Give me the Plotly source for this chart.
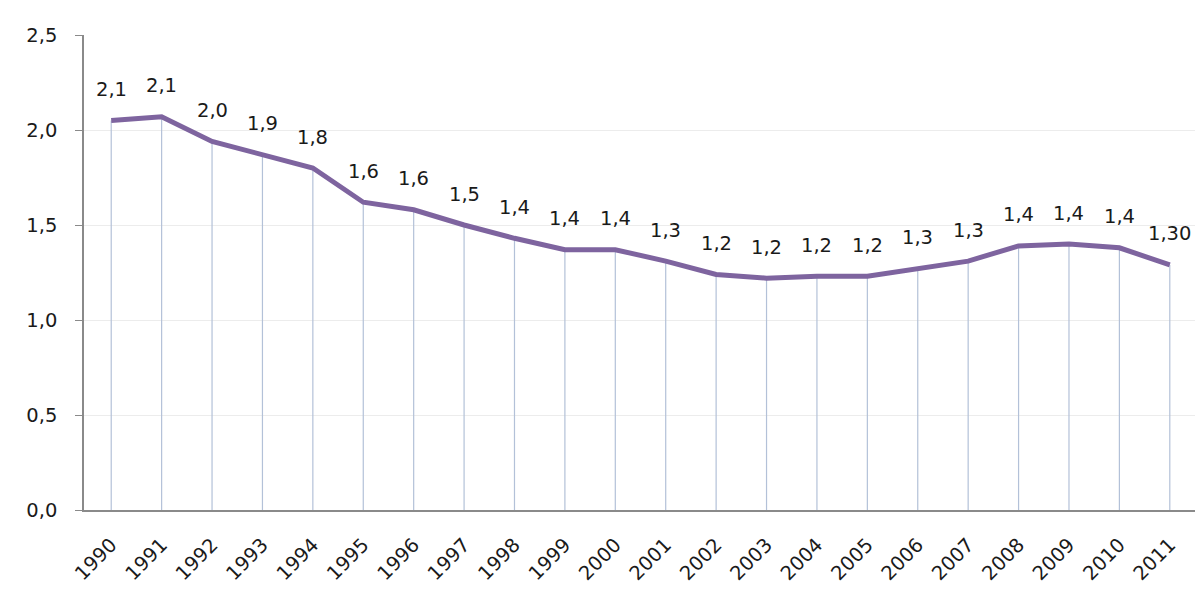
import plotly.graph_objects as go

years = [str(y) for y in range(1990, 2012)]
values = [2.05, 2.07, 1.94, 1.87, 1.80, 1.62, 1.58, 1.50, 1.43, 1.37, 1.37,
          1.31, 1.24, 1.22, 1.23, 1.23, 1.27, 1.31, 1.39, 1.40, 1.38, 1.29]
labels = ["2,1", "2,1", "2,0", "1,9", "1,8", "1,6", "1,6", "1,5", "1,4", "1,4", "1,4",
          "1,3", "1,2", "1,2", "1,2", "1,2", "1,3", "1,3", "1,4", "1,4", "1,4", "1,30"]
ytick_vals = [0, 0.5, 1.0, 1.5, 2.0, 2.5]
ytick_text = ["0,0", "0,5", "1,0", "1,5", "2,0", "2,5"]

FONT = "DejaVu Sans"
FS = 19.5
TXT = "#1a1a1a"

fig = go.Figure()
# drop lines
fig.add_trace(go.Scatter(
    x=years, y=values, mode="markers",
    marker=dict(size=0.1, opacity=0),
    error_y=dict(type="data", symmetric=False, array=[0] * len(values),
                 arrayminus=values, width=0, color="#b3c1d8", thickness=1.2),
    hoverinfo="skip", showlegend=False,
))
fig.add_trace(go.Scatter(
    x=years, y=values, mode="lines",
    line=dict(color="#7e649f", width=5),
    showlegend=False,
))

for i, (y, t) in enumerate(zip(values, labels)):
    fig.add_annotation(x=i, y=y, xref="x", yref="y", text=t, showarrow=False,
                       yshift=31, font=dict(family=FONT, size=FS, color=TXT))

fig.update_layout(
    width=1200, height=589,
    margin=dict(l=84, r=5, t=35, b=79),
    paper_bgcolor="white", plot_bgcolor="white",
    font=dict(family=FONT, size=FS, color=TXT),
)
fig.update_xaxes(
    type="category", range=[-0.54, 21.5],
    showgrid=False, showline=True, linecolor="#8a8a8a", linewidth=1.5,
    tickangle=-45, ticks="", ticklabelstandoff=14,
    tickfont=dict(family=FONT, size=FS, color=TXT),
)
fig.update_yaxes(
    range=[0, 2.5], tickvals=ytick_vals, ticktext=ytick_text,
    showgrid=True, gridcolor="#ececec", gridwidth=1,
    showline=True, linecolor="#8a8a8a", linewidth=1.5,
    ticks="outside", ticklen=7, tickcolor="#8a8a8a",
    ticklabelstandoff=14, zeroline=False,
    tickfont=dict(family=FONT, size=FS, color=TXT),
)

fig.write_html("out.html")
